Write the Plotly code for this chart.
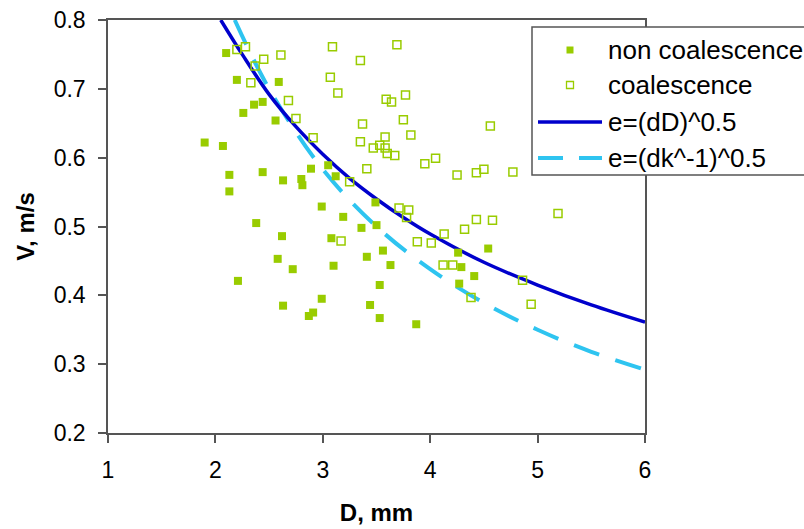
import plotly.graph_objects as go

# ---- data ----
non_coal_D = [1.90, 2.07, 2.10, 2.20, 2.59, 2.36, 2.44, 2.26, 2.56, 2.89, 3.05, 2.13, 2.13, 2.44,
              2.63, 2.80, 2.81, 3.12, 2.99, 2.38, 2.62, 3.08, 2.58, 2.72, 3.10, 2.21, 2.99, 2.63,
              2.91, 2.87, 3.49, 3.19, 3.36, 3.50, 3.56, 3.41, 3.63, 3.53, 3.44, 3.53, 3.87, 4.26,
              4.29, 4.41, 4.27, 4.54]
non_coal_V = [0.622, 0.617, 0.752, 0.713, 0.710, 0.677, 0.681, 0.665, 0.654, 0.584, 0.589, 0.575,
              0.551, 0.579, 0.567, 0.569, 0.560, 0.573, 0.529, 0.505, 0.486, 0.483, 0.453, 0.438,
              0.443, 0.421, 0.395, 0.385, 0.375, 0.370, 0.535, 0.514, 0.498, 0.502, 0.465, 0.456,
              0.444, 0.415, 0.386, 0.367, 0.358, 0.462, 0.441, 0.428, 0.417, 0.468]

coal_D = [2.20, 2.28, 2.45, 2.61, 2.37, 2.33, 2.68, 2.75, 2.91, 3.09, 3.07, 3.14, 3.69, 3.35,
          3.59, 3.64, 3.77, 3.75, 3.37, 3.82, 3.35, 3.58, 3.47, 3.53, 3.58, 3.60, 3.67, 3.95,
          4.05, 3.41, 3.25, 4.25, 4.43, 4.50, 4.77, 3.71, 3.80, 3.78, 4.13, 4.32, 4.43, 4.58,
          3.17, 3.88, 4.01, 4.12, 4.21, 4.38, 4.86, 4.94, 5.19, 4.56]
coal_V = [0.757, 0.761, 0.743, 0.749, 0.733, 0.709, 0.683, 0.657, 0.629, 0.761, 0.717, 0.694,
          0.764, 0.741, 0.685, 0.681, 0.691, 0.655, 0.649, 0.633, 0.623, 0.630, 0.614, 0.618,
          0.614, 0.606, 0.603, 0.591, 0.599, 0.584, 0.565, 0.575, 0.578, 0.583, 0.579, 0.527,
          0.524, 0.513, 0.489, 0.496, 0.510, 0.509, 0.479, 0.478, 0.476, 0.444, 0.444, 0.397,
          0.422, 0.387, 0.519, 0.646]

curve1_D = [2.05, 2.25, 2.5, 2.75, 3.0, 3.25, 3.5, 3.75, 4.0, 4.5, 5.0, 5.5, 6.0]
curve1_V = [0.800, 0.750, 0.692, 0.645, 0.605, 0.570, 0.540, 0.513, 0.489, 0.448, 0.415, 0.386, 0.361]

curve2_D = [2.18, 2.5, 3.0, 3.5, 4.0, 4.5, 5.0, 5.5, 6.0]
curve2_V = [0.800, 0.700, 0.583, 0.500, 0.438, 0.389, 0.350, 0.318, 0.292]

legend_labels = ["non coalescence", "coalescence", "e=(dD)^0.5", "e=(dk^-1)^0.5"]
x_ticks = [1, 2, 3, 4, 5, 6]
y_ticks = [0.2, 0.3, 0.4, 0.5, 0.6, 0.7, 0.8]

# ---- styles ----
GREEN = "#99CC00"
DARK_BLUE = "#0000CC"
LIGHT_BLUE = "#2EC4F0"
FONT = "Liberation Sans, Arial, sans-serif"

W, H = 804, 529
ML, MR, MT, MB = 108, 159, 20, 96
PW, PH = W - ML - MR, H - MT - MB


def px(xp):
    return (xp - ML) / PW


def py(yp):
    return (H - MB - yp) / PH


fig = go.Figure()
fig.add_trace(go.Scatter(x=curve2_D, y=curve2_V, mode="lines", line_shape="spline",
                         line=dict(color=LIGHT_BLUE, width=4, dash="27px,17px"),
                         showlegend=False, hoverinfo="skip"))
fig.add_trace(go.Scatter(x=curve1_D, y=curve1_V, mode="lines", line_shape="spline",
                         line=dict(color=DARK_BLUE, width=3.5),
                         showlegend=False, hoverinfo="skip"))
fig.add_trace(go.Scatter(x=non_coal_D, y=non_coal_V, mode="markers",
                         marker=dict(symbol="square", size=8, color=GREEN, line=dict(width=0)),
                         showlegend=False))
fig.add_trace(go.Scatter(x=coal_D, y=coal_V, mode="markers",
                         marker=dict(symbol="square-open", size=8, color=GREEN,
                                     line=dict(width=1.5, color=GREEN)),
                         showlegend=False))

# ---- manual legend (box, symbols, labels) ----
shapes = [
    dict(type="rect", xref="paper", yref="paper", x0=px(532), x1=px(812), y0=py(175), y1=py(27),
         fillcolor="white", line=dict(color="#555555", width=1.5), layer="above"),
    dict(type="rect", xref="paper", yref="paper", xsizemode="pixel", ysizemode="pixel",
         xanchor=px(570), yanchor=py(50), x0=-3.5, x1=3.5, y0=-3.5, y1=3.5,
         fillcolor=GREEN, line=dict(width=0), layer="above"),
    dict(type="rect", xref="paper", yref="paper", xsizemode="pixel", ysizemode="pixel",
         xanchor=px(570), yanchor=py(85), x0=-3.5, x1=3.5, y0=-3.5, y1=3.5,
         fillcolor="white", line=dict(color=GREEN, width=1.3), layer="above"),
    dict(type="line", xref="paper", yref="paper", x0=px(538), x1=px(602), y0=py(122), y1=py(122),
         line=dict(color=DARK_BLUE, width=3.5), layer="above"),
    dict(type="line", xref="paper", yref="paper", x0=px(538), x1=px(602), y0=py(158), y1=py(158),
         line=dict(color=LIGHT_BLUE, width=4, dash="25px,16px"), layer="above"),
]
row_y = [50, 85, 122, 158]
annotations = [
    dict(text=lab, xref="paper", yref="paper", x=px(606), y=py(yy), xanchor="left",
         yanchor="middle", showarrow=False, font=dict(family=FONT, size=26, color="black"))
    for lab, yy in zip(legend_labels, row_y)
]

axis_common = dict(showline=True, linecolor="#555555", linewidth=1.5, mirror=True,
                   ticks="outside", ticklen=8, tickwidth=1.5, tickcolor="#555555",
                   showgrid=False, zeroline=False,
                   tickfont=dict(family=FONT, size=23, color="black"),
                   ticklabelstandoff=8)

fig.update_layout(
    width=W, height=H,
    margin=dict(l=ML, r=MR, t=MT, b=MB, autoexpand=False),
    paper_bgcolor="white", plot_bgcolor="white",
    showlegend=False,
    shapes=shapes, annotations=annotations,
    xaxis=dict(range=[1, 6], tickvals=x_ticks, ticktext=[str(v) for v in x_ticks],
               title=dict(text="<b>D, mm</b>", font=dict(family=FONT, size=24, color="black"),
                          standoff=22),
               **axis_common),
    yaxis=dict(range=[0.2, 0.8], tickvals=y_ticks, ticktext=[f"{v:.1f}" for v in y_ticks],
               title=dict(text="<b>V, m/s</b>", font=dict(family=FONT, size=24, color="black"),
                          standoff=12),
               **axis_common),
)

fig.write_html("out.html", config={"displayModeBar": False},
               post_script="document.body.style.margin='0px';document.body.style.overflow='hidden';")
